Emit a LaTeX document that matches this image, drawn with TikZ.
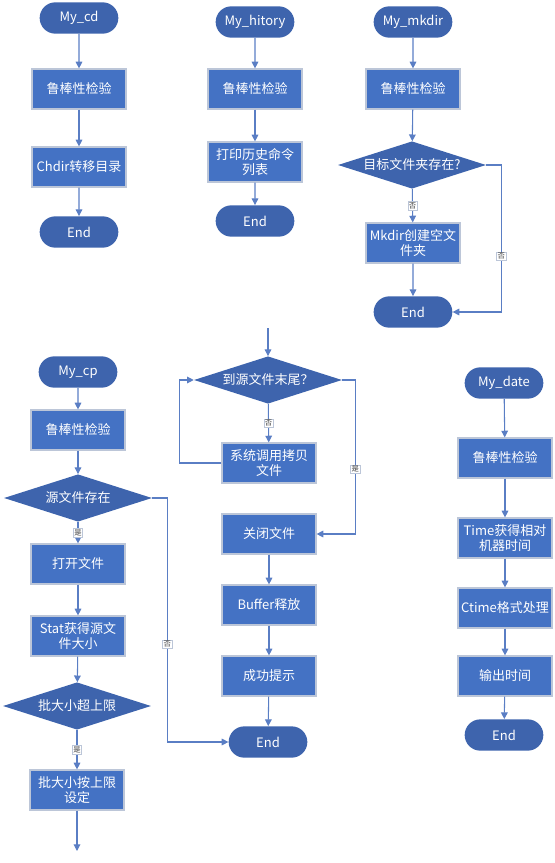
\documentclass[tikz,border=0pt]{standalone}
\usepackage{fontspec}
\setmainfont{Noto Sans CJK SC}
\usetikzlibrary{positioning,shapes.geometric,shapes.misc,arrows.meta}

\definecolor{termblue}{HTML}{3E64AD}
\definecolor{boxblue}{HTML}{4472C4}
\definecolor{boxedge}{HTML}{BCC6D8}
\definecolor{linkblue}{HTML}{5A7EC4}

\begin{document}
\begin{tikzpicture}[x=0.75pt, y=-0.75pt, >={Triangle[width=5pt,length=5pt]},
		every node/.style={font=\fontsize{9.75}{11.5}\selectfont, text=white},
		terminal/.style={rounded rectangle, fill=termblue, minimum width=59pt, minimum height=23.5pt, inner sep=0pt},
		proc/.style={rectangle, fill=boxblue, draw=boxedge, line width=0.9pt, minimum width=70.5pt, minimum height=30pt, inner sep=1pt, align=center},
		decide/.style={diamond, fill=termblue, minimum width=111pt, minimum height=35.5pt, inner sep=0pt, aspect=3},
		link/.style={->, draw=linkblue, line width=0.8pt},
		tag/.style={fill=white, draw=boxedge, line width=0.4pt, text=black!75, font=\fontsize{5.5}{6}\selectfont, inner sep=0.8pt}]

		\useasboundingbox (0,0) rectangle (554,863);

		\node [terminal] (cd-start) at (79,18) {My\_cd};
		\node [proc] (cd-check) at (79,89) {鲁棒性检验};
		\node [proc] (cd-chdir) at (79,167) {Chdir转移目录};
		\node [terminal] (cd-end) at (79,232) {End};

		\node [terminal] (hi-start) at (255,22) {My\_hitory};
		\node [proc] (hi-check) at (255,89) {鲁棒性检验};
		\node [proc] (hi-list) at (255,162) {打印历史命令\\列表};
		\node [terminal] (hi-end) at (255,221) {End};

		\node [terminal] (mk-start) at (413,22) {My\_mkdir};
		\node [proc] (mk-check) at (413,89) {鲁棒性检验};
		\node [decide] (mk-q) at (412,165) {目标文件夹存在?};
		\node [proc] (mk-make) at (413,243) {Mkdir创建空文\\件夹};
		\node [terminal] (mk-end) at (413,312) {End};

		\foreach \c in {cd,hi}{
			\foreach \a/\b in {start/check}
				\draw [link] (\c-\a) -- (\c-\b);
		}
		\draw [link] (cd-check) -- (cd-chdir);
		\draw [link] (cd-chdir) -- (cd-end);
		\draw [link] (hi-check) -- (hi-list);
		\draw [link] (hi-list) -- (hi-end);

		\draw [link] (mk-start) -- (mk-check);
		\draw [link] (mk-check) -- (mk-q);
		\draw [link] (mk-q) -- node [tag] (mk-no1) {否} (mk-make);
		\draw [link] (mk-make) -- (mk-end);
		\draw [link] (mk-q.east) -- ++(15,0) |- node [tag, pos=0.31] (mk-no2) {否} (mk-end.east);

		\node [terminal] (cp-start) at (78,372) {My\_cp};
		\node [proc] (cp-check) at (78,430) {鲁棒性检验};
		\node [decide] (cp-q) at (78,498) {源文件存在};
		\node [proc] (cp-open) at (78,564) {打开文件};
		\node [proc] (cp-stat) at (78,636) {Stat获得源文\\件大小};
		\node [decide] (cp-big) at (77,706) {批大小超上限};
		\node [proc] (cp-set) at (77,790) {批大小按上限\\设定};
		\coordinate (cp-out) at (77,851);

		\draw [link] (cp-start) -- (cp-check);
		\draw [link] (cp-check) -- (cp-q);
		\draw [link] (cp-q) -- node [tag] (cp-yes1) {是} (cp-open);
		\draw [link] (cp-open) -- (cp-stat);
		\draw [link] (cp-stat) -- (cp-big);
		\draw [link] (cp-big) -- node [tag] (cp-yes2) {是} (cp-set);
		\draw [link] (cp-set) -- (cp-out);

		\coordinate (md-in) at (268,328);
		\node [decide] (md-q) at (268,380) {到源文件末尾？};
		\node [proc] (md-copy) at (269,463) {系统调用拷贝\\文件};
		\node [proc] (md-close) at (269,534) {关闭文件};
		\node [proc] (md-buf) at (269,605) {Buffer释放};
		\node [proc] (md-ok) at (269,676) {成功提示};
		\node [terminal] (md-end) at (268,742) {End};

		\draw [link] (md-in) -- (md-q);
		\draw [link] (md-q) -- node [tag] (md-no) {否} (md-copy);
		\draw [link] (md-copy.west) -- ++(-42,0) |- (md-q.west);
		\draw [link] (md-q.east) -- ++(13,0) |- node [tag, pos=0.29] (md-yes) {是} (md-close.east);
		\foreach \a/\b in {close/buf, buf/ok, ok/end}
			\draw [link] (md-\a) -- (md-\b);
		\draw [link] (cp-q.east) -- ++(15,0) |- node [tag, pos=0.30] (cp-no) {否} (md-end.west);

		\node [terminal] (dt-start) at (504,383) {My\_date};
		\node [proc] (dt-check) at (505,458) {鲁棒性检验};
		\node [proc] (dt-time) at (505,538) {Time获得相对\\机器时间};
		\node [proc] (dt-ctime) at (505,608) {Ctime格式处理};
		\node [proc] (dt-out) at (505,676) {输出时间};
		\node [terminal] (dt-end) at (504,735) {End};

		\foreach \a/\b in {start/check, check/time, time/ctime, ctime/out, out/end}
			\draw [link] (dt-\a) -- (dt-\b);

	\end{tikzpicture}
\end{document}
